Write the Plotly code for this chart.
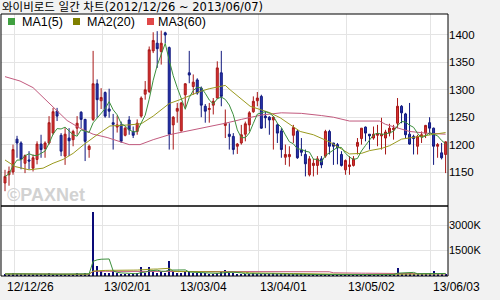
import plotly.graph_objects as go
import pandas as pd

# ---------------- data ----------------
tick_idx = [0, 24.25, 43.25, 63.25, 85.25, 106.25]
tick_labels = ["12/12/26", "13/02/01", "13/03/04", "13/04/01", "13/05/02", "13/06/03"]
grid_idx = [2.25, 24.25, 43.25, 63.25, 85.25, 106.25]

opens = [1130, 1145, 1150, 1210, 1203, 1166, 1172, 1157, 1173, 1201,
         1193, 1203, 1221, 1261, 1217, 1179, 1212, 1209, 1230, 1259,
         1246, 1191, 1246, 1311, 1280, 1295, 1265, 1240, 1232, 1236,
         1217, 1245, 1224, 1224, 1252, 1292, 1297, 1371, 1385, 1370,
         1404, 1377, 1236, 1261, 1225, 1291, 1331, 1306, 1318, 1303,
         1270, 1264, 1272, 1285, 1331, 1235, 1219, 1215, 1197, 1203,
         1219, 1236, 1260, 1280, 1288, 1252, 1250, 1245, 1236, 1225,
         1177, 1178, 1217, 1224, 1190, 1182, 1145, 1162, 1162, 1174,
         1179, 1224, 1203, 1200, 1182, 1154, 1160, 1162, 1197, 1211,
         1232, 1219, 1212, 1217, 1216, 1212, 1221, 1227, 1239, 1270,
         1256, 1219, 1215, 1197, 1214, 1221, 1240, 1230, 1197, 1185,
         1182]
highs = [1154, 1160, 1200, 1216, 1206, 1182, 1188, 1182, 1206, 1218,
         1206, 1252, 1267, 1267, 1221, 1230, 1230, 1227, 1252, 1261,
         1247, 1200, 1371, 1319, 1303, 1297, 1302, 1256, 1253, 1242,
         1233, 1252, 1233, 1246, 1288, 1316, 1379, 1405, 1407, 1408,
         1406, 1379, 1252, 1276, 1278, 1312, 1371, 1328, 1321, 1306,
         1274, 1276, 1285, 1352, 1371, 1264, 1239, 1221, 1203, 1236,
         1242, 1261, 1288, 1296, 1291, 1261, 1252, 1252, 1239, 1230,
         1200, 1197, 1236, 1227, 1212, 1191, 1179, 1174, 1179, 1179,
         1227, 1227, 1203, 1203, 1188, 1173, 1179, 1179, 1212, 1230,
         1233, 1219, 1233, 1236, 1249, 1227, 1238, 1236, 1285, 1272,
         1258, 1276, 1218, 1218, 1224, 1236, 1250, 1231, 1203, 1203,
         1206]
lows = [1115, 1125, 1145, 1176, 1155, 1148, 1155, 1151, 1164, 1176,
        1176, 1200, 1218, 1243, 1179, 1163, 1179, 1197, 1218, 1230,
        1170, 1176, 1243, 1249, 1265, 1249, 1249, 1191, 1222, 1203,
        1215, 1218, 1212, 1218, 1249, 1282, 1294, 1367, 1340, 1346,
        1385, 1191, 1191, 1240, 1224, 1267, 1312, 1291, 1291, 1250,
        1240, 1240, 1255, 1284, 1270, 1212, 1191, 1182, 1183, 1200,
        1206, 1224, 1258, 1270, 1229, 1230, 1218, 1191, 1203, 1176,
        1163, 1160, 1203, 1174, 1179, 1142, 1142, 1142, 1145, 1157,
        1176, 1182, 1163, 1164, 1160, 1145, 1145, 1160, 1182, 1200,
        1206, 1191, 1209, 1197, 1191, 1182, 1215, 1209, 1230, 1239,
        1212, 1200, 1182, 1182, 1203, 1212, 1218, 1163, 1176, 1173,
        1148]
closes = [1142, 1151, 1191, 1203, 1173, 1180, 1170, 1176, 1201, 1191,
          1203, 1240, 1260, 1252, 1188, 1219, 1207, 1224, 1239, 1246,
          1206, 1197, 1311, 1282, 1286, 1252, 1261, 1237, 1236, 1206,
          1230, 1227, 1217, 1239, 1285, 1300, 1373, 1390, 1375, 1385,
          1400, 1219, 1250, 1266, 1276, 1311, 1327, 1314, 1294, 1272,
          1261, 1266, 1279, 1340, 1288, 1239, 1215, 1191, 1201, 1218,
          1238, 1258, 1279, 1285, 1230, 1249, 1245, 1250, 1221, 1191,
          1182, 1182, 1231, 1176, 1186, 1165, 1174, 1166, 1174, 1163,
          1224, 1197, 1197, 1194, 1162, 1171, 1163, 1174, 1204, 1230,
          1221, 1216, 1219, 1219, 1219, 1223, 1230, 1230, 1270, 1258,
          1218, 1201, 1211, 1215, 1218, 1235, 1230, 1197, 1200, 1176,
          1205]
volumes_k = [120, 90, 150, 130, 100, 80, 70, 90, 110, 100,
             80, 150, 130, 90, 110, 80, 70, 90, 160, 120,
             180, 90, 3770, 590, 300, 200, 150, 270, 150, 140,
             120, 130, 110, 150, 530, 200, 530, 250, 200, 220,
             180, 880, 300, 200, 180, 230, 260, 180, 170, 160,
             150, 140, 120, 200, 250, 350, 180, 150, 120, 100,
             110, 130, 150, 120, 140, 110, 100, 150, 120, 110,
             100, 90, 110, 100, 90, 100, 80, 90, 70, 80,
             120, 100, 90, 80, 70, 80, 60, 70, 90, 110,
             80, 70, 60, 80, 70, 90, 100, 80, 490, 120,
             150, 160, 140, 100, 80, 90, 150, 290, 120, 100,
             80]

ma20_x = [0, 2.5, 6, 9.5, 12, 14.5, 17, 19.5, 23, 26.2, 31, 34, 37, 41, 43.7,
          48.7, 51, 55, 56.2, 58.7, 61.2, 63.7, 66.2, 68.7, 71.2, 73.7, 77, 81,
          84, 86, 89, 91, 94, 96, 99, 101, 104, 106, 110]
ma20_y = [1172, 1160, 1154, 1157, 1166, 1173, 1184, 1199, 1218, 1234, 1236, 1238,
          1252, 1275, 1282, 1297, 1302, 1308, 1300, 1285, 1270, 1264, 1258, 1249,
          1236, 1224, 1218, 1205, 1192, 1183, 1184, 1189, 1193, 1198, 1210, 1212,
          1216, 1218, 1222]
ma60_x = [0, 3.75, 7, 9.2, 12, 15.5, 18.7, 22, 25.5, 28, 31, 33.7, 37, 41, 46,
          51, 55, 59, 64, 69, 74, 79, 82, 86, 93.5, 95, 101, 105, 110]
ma60_y = [1324, 1316, 1304, 1288, 1268, 1244, 1230, 1219, 1213, 1207, 1200, 1200,
          1209, 1218, 1225, 1233, 1239, 1246, 1254, 1258, 1257, 1253, 1250, 1243,
          1243, 1237, 1224, 1221, 1219]

legend_names = ["MA1(5)", "MA2(20)", "MA3(60)"]
title_text = "와이비로드 일간 차트(2012/12/26 ~ 2013/06/07)"

# ---------------- derived ----------------
idx = list(range(len(closes)))
ma5 = pd.Series(closes).rolling(5, min_periods=1).mean()
vs = pd.Series(volumes_k)
vma5 = vs.rolling(5, min_periods=1).mean()
vma20 = vs.rolling(20, min_periods=1).mean()
vma60 = vs.rolling(60, min_periods=1).mean()

C_GREEN = "#3C8F3C"
C_OLIVE = "#9A9A1E"
C_PINK = "#C25A7E"

fig = go.Figure()
fig.add_trace(go.Candlestick(
    x=idx, open=opens, high=highs, low=lows, close=closes,
    increasing=dict(line=dict(color="#A81818", width=1), fillcolor="#D83434"),
    decreasing=dict(line=dict(color="#10187E", width=1), fillcolor="#2A36B0"),
    whiskerwidth=0, xaxis="x", yaxis="y", showlegend=False, hoverinfo="skip"))
fig.add_trace(go.Scatter(x=ma60_x, y=ma60_y, mode="lines", line=dict(color=C_PINK, width=1),
                         xaxis="x", yaxis="y", showlegend=False, hoverinfo="skip"))
fig.add_trace(go.Scatter(x=ma20_x, y=ma20_y, mode="lines", line=dict(color=C_OLIVE, width=1),
                         xaxis="x", yaxis="y", showlegend=False, hoverinfo="skip"))
fig.add_trace(go.Scatter(x=idx, y=ma5, mode="lines", line=dict(color=C_GREEN, width=1),
                         xaxis="x", yaxis="y", showlegend=False, hoverinfo="skip"))

fig.add_trace(go.Bar(x=idx, y=volumes_k, width=0.5, marker=dict(color="#0A0A78", line=dict(width=0)),
                     xaxis="x2", yaxis="y2", showlegend=False, hoverinfo="skip"))
for s, c in [(vma60, C_PINK), (vma20, C_OLIVE), (vma5, C_GREEN)]:
    fig.add_trace(go.Scatter(x=idx, y=s, mode="lines", line=dict(color=c, width=1),
                             xaxis="x2", yaxis="y2", showlegend=False, hoverinfo="skip"))

PW, PH = 447.0, 262.0
def px_x(p):
    return (p - 1) / PW
def px_y(p):
    return (276 - p) / PH

vol_top = px_y(206)
xr = [-1.0, 110.6]
grid = "#E4E4E4"
fig.update_layout(
    width=500, height=300,
    margin=dict(l=1, r=52, t=14, b=24),
    paper_bgcolor="#F2F2F2", plot_bgcolor="#FFFFFF",
    font=dict(family="Liberation Sans, Noto Sans CJK KR", size=11, color="#000000"),
    xaxis=dict(domain=[0, 1], anchor="y", range=xr, tickvals=grid_idx, showticklabels=False,
               showgrid=True, gridcolor=grid, gridwidth=1, zeroline=False, showline=False,
               rangeslider=dict(visible=False), fixedrange=True),
    xaxis2=dict(domain=[0, 1], anchor="y2", range=xr, tickvals=grid_idx, showticklabels=False,
                showgrid=True, gridcolor=grid, gridwidth=1, zeroline=False, showline=False),
    yaxis=dict(domain=[vol_top, 1], anchor="x", side="right", range=[1088, 1438.3],
               tickvals=[1150, 1200, 1250, 1300, 1350, 1400], showgrid=True, gridcolor=grid,
               zeroline=False, showline=False, ticks="", tickfont=dict(size=11.5)),
    yaxis2=dict(domain=[0, vol_top], anchor="x2", side="right", range=[0, 4118],
                tickvals=[1500, 3000], ticktext=["1500K", "3000K"], showgrid=True, gridcolor=grid,
                zeroline=False, showline=False, ticks="", tickfont=dict(size=11)),
    bargap=0,
)

shapes = [
    dict(type="rect", xref="paper", yref="paper", x0=0, x1=1, y0=vol_top, y1=1,
         line=dict(color="#000000", width=1)),
    dict(type="rect", xref="paper", yref="paper", x0=0, x1=1, y0=0, y1=vol_top,
         line=dict(color="#000000", width=1)),
]
leg_sq = [(8, "#40A040"), (73, "#808000"), (147, "#E04848")]
leg_tx = [22, 87, 158]
for (sx, col), tx, name in zip(leg_sq, leg_tx, legend_names):
    shapes.append(dict(type="rect", xref="paper", yref="paper",
                       x0=px_x(sx), x1=px_x(sx + 7), y0=px_y(25), y1=px_y(18),
                       fillcolor=col, line=dict(width=0)))
fig.update_layout(shapes=shapes)

ann = []
for tx, name in zip(leg_tx, legend_names):
    ann.append(dict(xref="paper", yref="paper", x=px_x(tx) - 0.002, y=px_y(22), text=name,
                    showarrow=False, xanchor="left", yanchor="middle", borderpad=0,
                    font=dict(size=12.5)))
ann.append(dict(xref="paper", yref="paper", x=px_x(1), y=px_y(6.5), text=title_text,
                showarrow=False, xanchor="left", yanchor="middle", borderpad=0,
                font=dict(family="DejaVu Sans, Noto Sans CJK KR", size=11.5)))
ann.append(dict(xref="paper", yref="paper", x=px_x(5), y=px_y(195), text="<b>©PAXNet</b>",
                showarrow=False, xanchor="left", yanchor="middle",
                font=dict(size=18, color="#D2D2D2")))
for ti, tl in zip(tick_idx, tick_labels):
    ann.append(dict(xref="x2", yref="paper", x=ti, y=px_y(287), text=tl, showarrow=False,
                    xanchor="left", yanchor="middle", font=dict(size=12)))
fig.update_layout(annotations=ann)

fig.write_html("out.html")
